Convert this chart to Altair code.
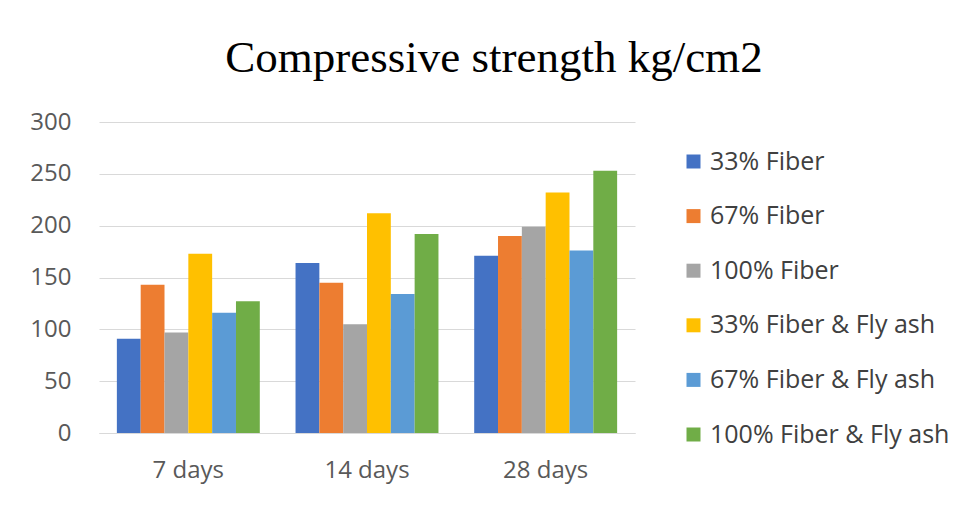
import altair as alt
import pandas as pd

groups = ["7 days", "14 days", "28 days"]
series = ["33% Fiber", "67% Fiber", "100% Fiber",
          "33% Fiber & Fly ash", "67% Fiber & Fly ash", "100% Fiber & Fly ash"]
colors = ["#4472C4", "#ED7D31", "#A5A5A5", "#FFC000", "#5B9BD5", "#70AD47"]

fiber33 = [91, 164, 171]
fiber67 = [143, 145, 190]
fiber100 = [97, 105, 199]
fly33 = [173, 212, 232]
fly67 = [116, 134, 176]
fly100 = [127, 192, 253]

all_vals = [fiber33, fiber67, fiber100, fly33, fly67, fly100]
rows = []
for s, vals in zip(series, all_vals):
    for g, v in zip(groups, vals):
        rows.append({"Age": g, "Mix": s, "Strength": v})
df = pd.DataFrame(rows)

font = "Open Sans"

chart = alt.Chart(df).mark_bar().encode(
    x=alt.X("Age:N", sort=groups,
            scale=alt.Scale(paddingInner=0.2, paddingOuter=0.1),
            axis=alt.Axis(title=None, labelAngle=0, ticks=False, grid=False,
                          domainColor="#d9d9d9", labelFontSize=24,
                          labelColor="#595959", labelPadding=25, labelFont=font)),
    xOffset=alt.XOffset("Mix:N", sort=series),
    y=alt.Y("Strength:Q", scale=alt.Scale(domain=[0, 300]),
            axis=alt.Axis(values=[0, 50, 100, 150, 200, 250, 300], title=None,
                          domain=False, ticks=False, gridColor="#d9d9d9",
                          labelFontSize=24, labelColor="#595959",
                          labelPadding=28, labelFont=font)),
    color=alt.Color("Mix:N", sort=series,
                    scale=alt.Scale(domain=series, range=colors),
                    legend=alt.Legend(title=None, orient="none", legendX=582, legendY=27,
                                      symbolType="square", symbolSize=196,
                                      symbolStrokeWidth=0,
                                      labelFontSize=25, labelFont=font,
                                      labelColor="#404040", labelOffset=4,
                                      rowPadding=28.6, padding=0, labelLimit=400)),
).properties(
    width=536, height=311,
    background="white",
    title=alt.TitleParams("Compressive strength kg/cm2", font="Liberation Serif",
                          fontSize=45, fontWeight="normal", color="#000000",
                          anchor="middle", frame="bounds", offset=29, dx=4),
    padding={"left": 21, "top": 28, "right": 5, "bottom": 5},
).configure_view(stroke=None, strokeWidth=0)

chart.save("out.html", embed_options={"renderer": "svg", "actions": False})
